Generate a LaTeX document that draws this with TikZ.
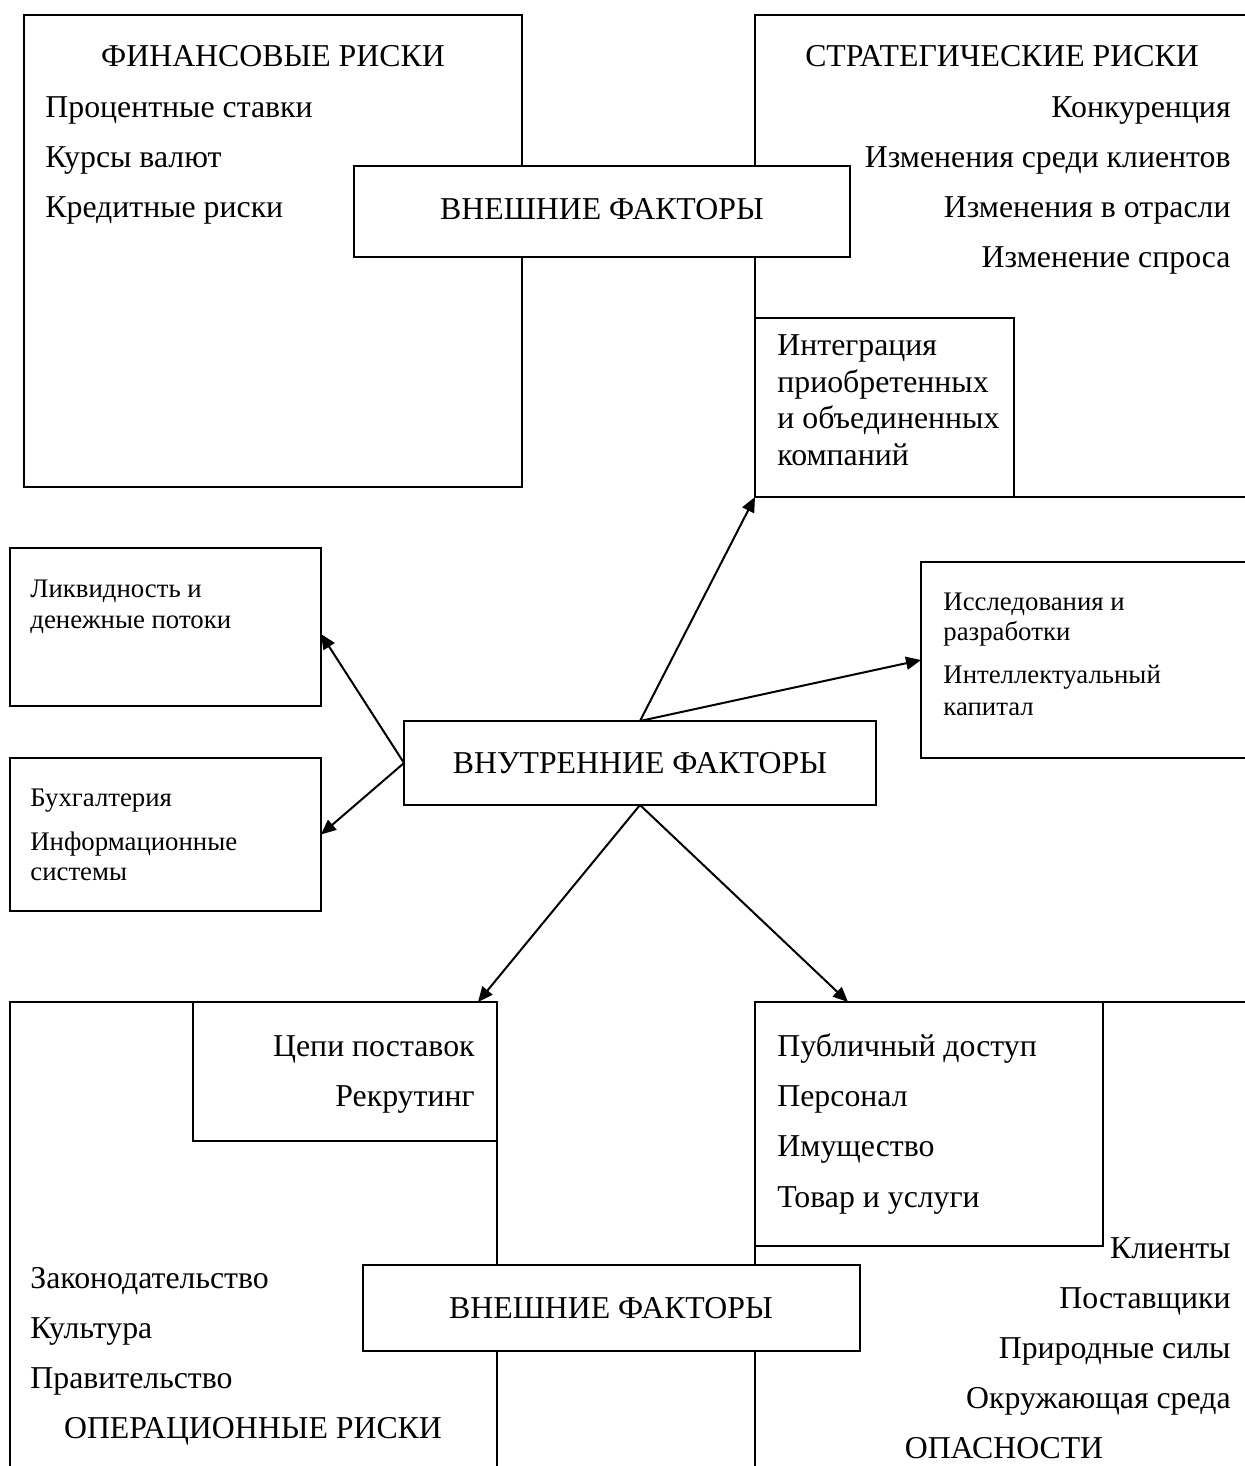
\documentclass[tikz,border=0pt]{standalone}
\usepackage{fontspec}
\setmainfont{Liberation Serif}
\usetikzlibrary{fit,arrows.meta}
\begin{document}
\begin{tikzpicture}[x=0.5pt,y=-0.5pt,
  box/.style={draw, line width=0.8pt, fill=white, inner sep=0pt, outer sep=0pt},
  big/.style={font=\fontsize{15.9}{18}\selectfont, inner sep=0pt},
  small/.style={font=\fontsize{13.4}{15}\selectfont, inner sep=0pt},
  arr/.style={-{Triangle[length=7.5pt,width=6.5pt]}, line width=1pt}]
\useasboundingbox (0,0) rectangle (1245,1466);
\clip (0,0) rectangle (1245,1466);
\fill[white] (0,0) rectangle (1245,1466);

% ---------- upper part ----------
\node[box, fit={(24,15) (522,487)}] (fin) {};
\node[box, fit={(755,15) (1300,497)}] (strat) {};
\node[box, fit={(755,318) (1014,497)}] (integ) {};
\node[box, fit={(354,166) (850,257)}] (ext1) {};

\node[big, anchor=base] (tfin) at (273,67) {ФИНАНСОВЫЕ РИСКИ};
\node[big, anchor=base west] (f1) at (45,118) {Процентные ставки};
\node[big, anchor=base west] (f2) at (45,168) {Курсы валют};
\node[big, anchor=base west] (f3) at (45,218) {Кредитные риски};

\node[big, anchor=base] (tstrat) at (1002,67) {СТРАТЕГИЧЕСКИЕ РИСКИ};
\node[big, anchor=base east] (s1) at (1231,118) {Конкуренция};
\node[big, anchor=base east] (s2) at (1231,168) {Изменения среди клиентов};
\node[big, anchor=base east] (s3) at (1231,218) {Изменения в отрасли};
\node[big, anchor=base east] (s4) at (1231,268) {Изменение спроса};

\node[big, anchor=base] (text1) at (602,220) {ВНЕШНИЕ ФАКТОРЫ};

\node[big, anchor=base west] (i1) at (777,355) {Интеграция};
\node[big, anchor=base west] (i2) at (777,392) {приобретенных};
\node[big, anchor=base west] (i3) at (777,428) {и объединенных};
\node[big, anchor=base west] (i4) at (777,465) {компаний};

% ---------- middle part ----------
\node[box, fit={(10,548) (321,706)}] (liq) {};
\node[box, fit={(10,758) (321,911)}] (acc) {};
\node[box, fit={(921,562) (1300,758)}] (rnd) {};
\node[box, fit={(404,721) (876,805)}] (int) {};

\node[small, anchor=base west] (l1) at (30,597) {Ликвидность и};
\node[small, anchor=base west] (l2) at (30,628) {денежные потоки};
\node[small, anchor=base west] (a1) at (30,806) {Бухгалтерия};
\node[small, anchor=base west] (a2) at (30,850) {Информационные};
\node[small, anchor=base west] (a3) at (30,880) {системы};
\node[small, anchor=base west] (r1) at (943,610) {Исследования и};
\node[small, anchor=base west] (r2) at (943,640) {разработки};
\node[small, anchor=base west] (r3) at (943,683) {Интеллектуальный};
\node[small, anchor=base west] (r4) at (943,715) {капитал};
\node[big, anchor=base] (tint) at (640,773) {ВНУТРЕННИЕ ФАКТОРЫ};

% ---------- lower part ----------
\node[box, fit={(10,1002) (497,1500)}] (ops) {};
\node[box, fit={(755,1002) (1300,1500)}] (haz) {};
\node[box, fit={(193,1002) (497,1141)}] (sup) {};
\node[box, fit={(755,1002) (1103,1246)}] (pub) {};
\node[box, fit={(363,1265) (860,1351)}] (ext2) {};

\node[big, anchor=base east] (p1) at (475,1056) {Цепи поставок};
\node[big, anchor=base east] (p2) at (475,1106) {Рекрутинг};
\node[big, anchor=base west] (o1) at (30,1288) {Законодательство};
\node[big, anchor=base west] (o2) at (30,1338) {Культура};
\node[big, anchor=base west] (o3) at (30,1388) {Правительство};
\node[big, anchor=base] (tops) at (253,1438) {ОПЕРАЦИОННЫЕ РИСКИ};

\node[big, anchor=base west] (u1) at (777,1056) {Публичный доступ};
\node[big, anchor=base west] (u2) at (777,1106) {Персонал};
\node[big, anchor=base west] (u3) at (777,1156) {Имущество};
\node[big, anchor=base west] (u4) at (777,1207) {Товар и услуги};
\node[big, anchor=base east] (h1) at (1231,1258) {Клиенты};
\node[big, anchor=base east] (h2) at (1231,1308) {Поставщики};
\node[big, anchor=base east] (h3) at (1231,1358) {Природные силы};
\node[big, anchor=base east] (h4) at (1231,1408) {Окружающая среда};
\node[big, anchor=base] (thaz) at (1004,1458) {ОПАСНОСТИ};

\node[big, anchor=base] (text2) at (611,1318) {ВНЕШНИЕ ФАКТОРЫ};

% ---------- arrows ----------
\draw[arr] (int.north) -- (integ.south west);
\draw[arr] (int.north) -- (rnd.west);
\draw[arr] (int.west) -- ([yshift=-3.5pt]liq.east);
\draw[arr] (int.west) -- (acc.east);
\draw[arr] (int.south) -- ([xshift=-9.5pt]sup.north east);
\draw[arr] (int.south) -- ([xshift=46.5pt]pub.north west);
\end{tikzpicture}
\end{document}
